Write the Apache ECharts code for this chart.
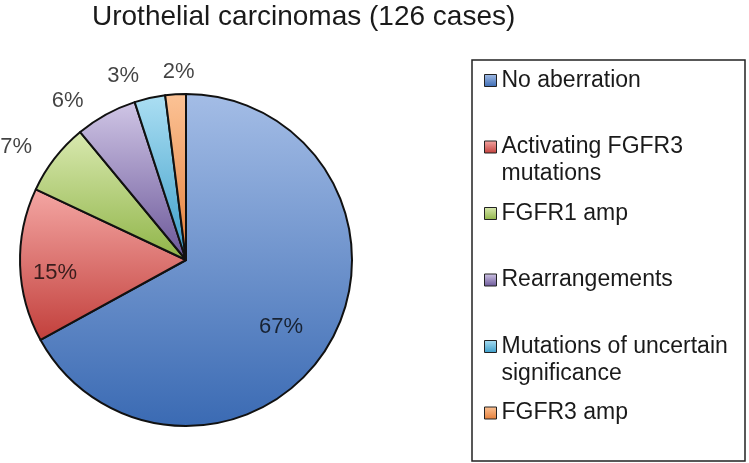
<!DOCTYPE html>
<html>
<head>
<meta charset="utf-8">
<script src="https://cdn.jsdelivr.net/npm/echarts@6/dist/echarts.min.js"></script>
<style>
html,body{margin:0;padding:0;background:#fff;}
#chart{width:749px;height:463px;}
</style>
</head>
<body>
<div id="chart"></div>
<script>
// ---- data ----
const titleText = 'Urothelial carcinomas (126 cases)';
const categories = [
  'No aberration',
  'Activating FGFR3 mutations',
  'FGFR1 amp',
  'Rearrangements',
  'Mutations of uncertain significance',
  'FGFR3 amp'
];
const legendLines = [
  ['No aberration', ' '],
  ['Activating FGFR3', 'mutations'],
  ['FGFR1 amp', ' '],
  ['Rearrangements', ' '],
  ['Mutations of uncertain', 'significance'],
  ['FGFR3 amp', ' ']
];
const percents = [67, 15, 7, 6, 3, 2];

// ---- styles ----
const gradStops = [
  ['#a4bde6', '#3a6ab3'],
  ['#f4a7a4', '#c23f3b'],
  ['#d9e9b0', '#8fb447'],
  ['#d0c6e6', '#6a5698'],
  ['#acdff3', '#3a9cc8'],
  ['#fcc396', '#e47d38']
];
const labelOffsets = [
  [21, 23], [-45, 10], [-102, -60], [-77, -84], [-44, -100], [-2, -102]
];

function grad(c) {
  return new echarts.graphic.LinearGradient(0, 0, 0, 1, [
    {offset: 0, color: c[0]}, {offset: 1, color: c[1]}
  ]);
}

const chart = echarts.init(document.getElementById('chart'), null, {renderer: 'canvas'});
const data = categories.map((name, i) => ({
  name: name,
  value: percents[i],
  itemStyle: {color: grad(gradStops[i])},
  label: {offset: labelOffsets[i]}
}));

chart.setOption({
  animation: false,
  backgroundColor: '#ffffff',
  title: {
    text: titleText,
    left: 92,
    top: 3,
    padding: 0,
    textStyle: {
      fontFamily: "'Liberation Sans', Arial, sans-serif",
      fontSize: 28,
      fontWeight: 'normal',
      color: '#1a1a1a'
    }
  },
  legend: {
    orient: 'vertical',
    left: 484,
    top: 40,
    padding: 0,
    itemGap: -14.5,
    itemWidth: 12,
    itemHeight: 12,
    icon: 'rect',
    selectedMode: false,
    itemStyle: {borderColor: '#222', borderWidth: 1},
    // three lines per entry: blank, first line, second line -> first line centred on the icon
    formatter: function (name) {
      const l = legendLines[categories.indexOf(name)];
      return ' \n' + l[0] + '\n' + l[1];
    },
    textStyle: {
      fontFamily: "'Liberation Sans', Arial, sans-serif",
      fontSize: 23,
      lineHeight: 27,
      color: '#1a1a1a'
    },
    data: categories
  },
  graphic: [{
    type: 'rect',
    shape: {x: 472, y: 60, width: 273, height: 401},
    style: {fill: 'none', stroke: '#222', lineWidth: 1.5},
    silent: true
  }],
  series: [{
    type: 'pie',
    center: [186, 260],
    radius: [0, 166],
    startAngle: 90,
    clockwise: true,
    avoidLabelOverlap: false,
    itemStyle: {borderColor: '#111', borderWidth: 2},
    label: {
      show: true,
      position: 'inside',
      formatter: '{c}%',
      fontFamily: "'Liberation Sans', Arial, sans-serif",
      fontSize: 22,
      color: 'rgba(0,0,0,0.74)'
    },
    labelLine: {show: false},
    emphasis: {disabled: true},
    data: data
  }]
});
</script>
</body>
</html>
